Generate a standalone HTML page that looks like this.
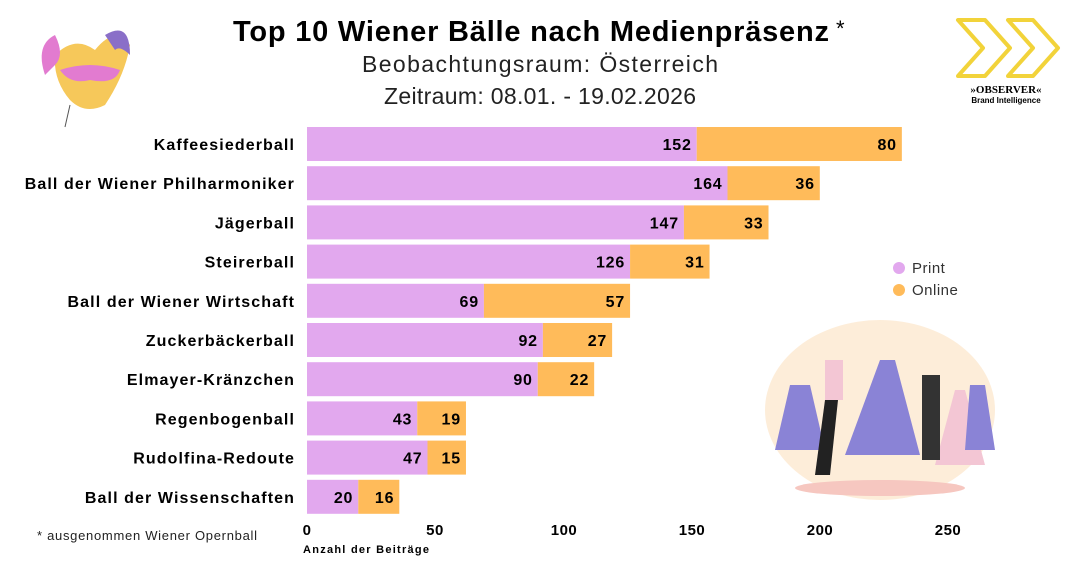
<!DOCTYPE html>
<html><head><meta charset="utf-8"><style>
body{margin:0;width:1080px;height:564px;background:#fff;overflow:hidden;font-family:"Liberation Sans",sans-serif;position:relative}
</style></head><body>
<svg width="1080" height="564" style="position:absolute;left:0;top:0" font-family="Liberation Sans, sans-serif">
<text x="233" y="41" textLength="596" lengthAdjust="spacing" font-size="29" font-weight="bold" fill="#000">Top 10 Wiener Bälle nach Medienpräsenz</text>
<text x="836" y="36" font-size="22" fill="#000">*</text>
<text x="362" y="72" textLength="356" lengthAdjust="spacing" font-size="23" fill="#222">Beobachtungsraum: Österreich</text>
<text x="384" y="104" textLength="312" lengthAdjust="spacing" font-size="23" fill="#222">Zeitraum: 08.01. - 19.02.2026</text>
<g id="bars"></g>
<g font-size="15" font-weight="bold" fill="#000" text-anchor="middle" letter-spacing="0.5">
<text x="307" y="535">0</text><text x="435" y="535">50</text><text x="564" y="535">100</text><text x="692" y="535">150</text><text x="820" y="535">200</text><text x="948" y="535">250</text>
</g>
<text x="303" y="553" font-size="11" font-weight="bold" textLength="126">Anzahl der Beiträge</text>
<text x="37" y="540" font-size="13" fill="#222" textLength="220">* ausgenommen Wiener Opernball</text>
<circle cx="899" cy="268" r="6" fill="#E2A8EE"/><text x="912" y="273" font-size="15" fill="#333" letter-spacing="0.5">Print</text>
<circle cx="899" cy="290" r="6" fill="#FFBB5A"/><text x="912" y="295" font-size="15" fill="#333" letter-spacing="0.5">Online</text>
<g transform="translate(35,15)">
<path d="M20 40 Q40 20 60 35 Q80 10 95 30 Q90 60 70 90 Q50 100 35 85 Q18 65 20 40Z" fill="#F6C85A"/>
<path d="M10 60 Q0 30 20 20 Q30 40 20 50Z" fill="#E27BD0"/>
<path d="M70 20 Q95 5 95 40 Q85 30 80 35Z" fill="#8A6FC8"/>
<path d="M25 55 Q55 45 85 55 Q80 70 55 65 Q35 70 25 55Z" fill="#E27BD0"/>
<line x1="35" y1="90" x2="30" y2="112" stroke="#555"/>
</g>
<g fill="none" stroke="#F2D33A" stroke-width="4" stroke-linejoin="round">
<path d="M958 20 L985 20 L1010 48 L985 76 L958 76 L983 48 Z"/>
<path d="M1008 20 L1033 20 L1058 48 L1033 76 L1008 76 L1033 48 Z"/>
</g>
<text x="1006" y="93" text-anchor="middle" font-size="11" font-weight="bold" font-family="Liberation Serif, serif">»OBSERVER«</text>
<text x="1006" y="103" text-anchor="middle" font-size="8" font-weight="bold">Brand Intelligence</text>
<ellipse cx="880" cy="410" rx="115" ry="90" fill="#FCE8D0" opacity="0.8"/>
<ellipse cx="880" cy="488" rx="85" ry="8" fill="#F6C7C0"/>
<path d="M790 385 L775 450 L825 450 L810 385Z" fill="#8A83D6"/>
<path d="M880 360 L845 455 L920 455 L895 360Z" fill="#8A83D6"/>
<rect x="825" y="360" width="18" height="40" fill="#F3C6D4"/>
<path d="M825 400 L815 475 L830 475 L838 400Z" fill="#222"/>
<path d="M955 390 L935 465 L985 465 L965 390Z" fill="#F3C6D4"/>
<path d="M970 385 L965 450 L995 450 L985 385Z" fill="#8A83D6"/>
<rect x="922" y="375" width="18" height="85" fill="#333"/>
</svg>
<script>
const d=[["Kaffeesiederball",152,80],["Ball der Wiener Philharmoniker",164,36],["Jägerball",147,33],["Steirerball",126,31],["Ball der Wiener Wirtschaft",69,57],["Zuckerbäckerball",92,27],["Elmayer-Kränzchen",90,22],["Regenbogenball",43,19],["Rudolfina-Redoute",47,15],["Ball der Wissenschaften",20,16]];
const s=641/250,x0=307;let h="";
d.forEach((r,i)=>{const y=127+i*39.2,w1=r[1]*s,w2=r[2]*s,c=y+17;
h+=`<rect x="${x0}" y="${y}" width="${w1}" height="34" fill="#E2A8EE"/><rect x="${x0+w1}" y="${y}" width="${w2}" height="34" fill="#FFBB5A"/>`;
h+=`<text x="${x0+w1-5}" y="${c+6}" text-anchor="end" font-size="16" font-weight="bold" letter-spacing="0.8">${r[1]}</text>`;
h+=`<text x="${x0+w1+w2-5}" y="${c+6}" text-anchor="end" font-size="16" font-weight="bold" letter-spacing="0.8">${r[2]}</text>`;
h+=`<text x="295" y="${c+6}" text-anchor="end" font-size="16" font-weight="bold" letter-spacing="1.1">${r[0]}</text>`;});
document.getElementById("bars").innerHTML=h;
</script>
</body></html>
